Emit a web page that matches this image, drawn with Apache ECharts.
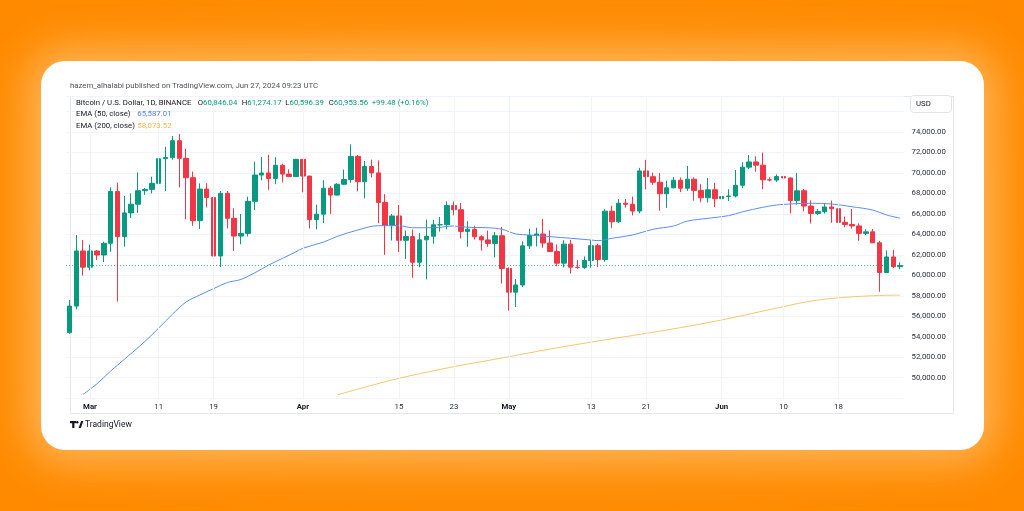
<!DOCTYPE html>
<html><head><meta charset="utf-8">
<script src="https://cdn.jsdelivr.net/npm/echarts@6/dist/echarts.min.js"></script>
<style>
html,body{margin:0;padding:0;background:#FF8C00;overflow:hidden;}
#wrap{position:relative;width:1024px;height:511px;background:radial-gradient(ellipse at center,#ff9a1f 0%,#ff8d05 60%,#ff8a00 100%);}
#card{position:absolute;left:41px;top:61px;width:943px;height:389px;background:#fff;border-radius:24px;box-shadow:0 0 40px 12px rgba(255,196,120,0.75);}
#frame{position:absolute;left:70px;top:96px;width:882px;height:316px;border:1px solid #e3e6ec;box-sizing:content-box;}
#c{position:absolute;left:0;top:0;width:1024px;height:511px;}
</style>
</head><body><div id="wrap"><div id="card"></div><div id="frame"></div><div id="c"></div></div>
<script>
const dates = [
'2024-02-27','2024-02-28','2024-02-29',
'2024-03-01','2024-03-02','2024-03-03','2024-03-04','2024-03-05','2024-03-06','2024-03-07','2024-03-08','2024-03-09','2024-03-10',
'2024-03-11','2024-03-12','2024-03-13','2024-03-14','2024-03-15','2024-03-16','2024-03-17','2024-03-18','2024-03-19','2024-03-20',
'2024-03-21','2024-03-22','2024-03-23','2024-03-24','2024-03-25','2024-03-26','2024-03-27','2024-03-28','2024-03-29','2024-03-30','2024-03-31',
'2024-04-01','2024-04-02','2024-04-03','2024-04-04','2024-04-05','2024-04-06','2024-04-07','2024-04-08','2024-04-09','2024-04-10',
'2024-04-11','2024-04-12','2024-04-13','2024-04-14','2024-04-15','2024-04-16','2024-04-17','2024-04-18','2024-04-19','2024-04-20',
'2024-04-21','2024-04-22','2024-04-23','2024-04-24','2024-04-25','2024-04-26','2024-04-27','2024-04-28','2024-04-29','2024-04-30',
'2024-05-01','2024-05-02','2024-05-03','2024-05-04','2024-05-05','2024-05-06','2024-05-07','2024-05-08','2024-05-09','2024-05-10',
'2024-05-11','2024-05-12','2024-05-13','2024-05-14','2024-05-15','2024-05-16','2024-05-17','2024-05-18','2024-05-19','2024-05-20',
'2024-05-21','2024-05-22','2024-05-23','2024-05-24','2024-05-25','2024-05-26','2024-05-27','2024-05-28','2024-05-29','2024-05-30','2024-05-31',
'2024-06-01','2024-06-02','2024-06-03','2024-06-04','2024-06-05','2024-06-06','2024-06-07','2024-06-08','2024-06-09','2024-06-10',
'2024-06-11','2024-06-12','2024-06-13','2024-06-14','2024-06-15','2024-06-16','2024-06-17','2024-06-18','2024-06-19','2024-06-20',
'2024-06-21','2024-06-22','2024-06-23','2024-06-24','2024-06-25','2024-06-26','2024-06-27'
];
const opens = [
54400,57000,62380,
60800,62380,61990,63130,68200,63780,66100,66950,68270,68400,
68990,71400,71500,73150,71430,69540,65340,68430,67600,61890,
68010,65570,63840,64100,67230,69800,70000,69460,70750,69890,69650,
71330,69700,65450,65980,68510,67840,68900,69360,71620,69150,
70630,70010,67120,64900,65800,63420,63790,61280,63470,63820,
64940,64950,66820,66410,64290,64500,63770,63460,63120,63870,
60670,58360,59060,62880,63890,64040,63160,62330,61190,63050,
60790,60770,61450,62900,61550,66270,65230,67050,66940,66280,
70200,69640,69100,67970,68550,69290,68510,69390,68300,67580,68360,
67490,67710,67750,68800,70570,71080,70760,69340,69310,69650,
69510,67310,68260,66770,66040,66230,66680,66510,65180,64970,
64830,64100,64250,63180,60280,61800,60846.04
];
const highs = [
57600,63940,63450,
63000,62480,63290,68600,69050,67750,68000,70060,68540,69640,
72570,72570,73610,73800,72360,70130,68990,68990,68170,68240,
68240,66550,65990,67690,71100,71560,71770,71550,70910,70350,71380,
71340,69710,66910,69290,68720,69000,70330,72800,71760,71170,
71300,71230,67930,66000,66870,64370,64480,64130,65450,65420,
65700,67230,67200,67080,65300,64840,63920,64370,64230,64730,
60780,59630,63320,64550,64650,65500,64390,63020,63420,63470,
61490,61850,63450,63100,66450,66800,67450,67450,67700,70500,
71280,70030,70000,69250,69610,69560,70690,69560,68900,69500,69030,
67860,68410,70290,71060,71760,71630,72000,69580,69860,70200,
69550,70000,68450,67320,66480,67000,67300,66510,65730,66480,
65070,64520,64530,63370,62440,62490,61274.17
];
const lows = [
54300,56680,59970,
60500,61500,61300,62300,57430,62800,65600,66100,67860,68000,
67100,68240,71300,68600,65470,64850,64530,66640,61500,60800,
64590,62380,63030,63800,66380,69280,68360,68900,69080,69600,69620,
68110,64590,64490,65110,66010,67800,68820,69040,68210,67520,
69570,65090,62000,63400,62270,61600,59770,60780,59600,63090,
64280,64500,65860,63590,62790,63500,62420,62780,61770,59190,
56550,56910,58850,62590,62820,62700,62280,60890,60770,60190,
60630,60630,60750,60800,61330,64600,65110,66610,65860,66060,
68400,68840,66310,66600,68500,68130,68250,67300,67130,67120,66670,
67390,67260,67610,68510,70380,70120,68420,69180,69130,69170,
66050,66910,66250,65060,65880,66030,65130,64060,64690,64560,
63380,63940,63180,58400,60240,60710,60596.39
];
const closes = [
57000,62380,60800,
62380,61990,63130,68200,63780,66100,66950,68270,68400,68990,
71400,71500,73150,71430,69540,65340,68430,67600,61890,68010,
65570,63840,64100,67230,69800,70000,69460,70750,69890,69650,71330,
69700,65450,65980,68510,67840,68900,69360,71620,69150,70630,
70010,67120,64900,65800,63420,63790,61280,63470,63820,64940,
64950,66820,66410,64290,64500,63770,63460,63120,63870,60670,
58360,59060,62880,63890,64040,63160,62330,61190,63050,60790,
60770,61450,62900,61550,66270,65230,67050,66940,66280,70200,
69640,69100,67970,68550,69290,68510,69390,68300,67580,68360,67490,
67710,67750,68800,70570,71080,70760,69340,69310,69650,69510,
67310,68260,66770,66040,66230,66680,66510,65180,64970,64830,
64100,64250,63180,60280,61800,60846.04,60953.56
];
const ema50Dates = ['2024-02-29','2024-03-02','2024-03-04','2024-03-06','2024-03-09','2024-03-11','2024-03-13','2024-03-15','2024-03-17','2024-03-19',
'2024-03-21','2024-03-23','2024-03-25','2024-03-27','2024-03-29','2024-03-31','2024-04-01','2024-04-04','2024-04-06','2024-04-09',
'2024-04-12','2024-04-15','2024-04-17','2024-04-20','2024-04-23','2024-04-25','2024-04-28','2024-04-30','2024-05-02','2024-05-04',
'2024-05-07','2024-05-10','2024-05-13','2024-05-14','2024-05-16','2024-05-19','2024-05-22','2024-05-25','2024-05-27','2024-05-30',
'2024-06-02','2024-06-04','2024-06-07','2024-06-09','2024-06-11','2024-06-14','2024-06-17','2024-06-20','2024-06-23','2024-06-25','2024-06-27'];
const ema50Values = [48380,49400,50650,51800,53550,54850,56200,57400,58080,58700,
59300,59600,60250,61000,61650,62300,62650,63250,63800,64430,
64850,64850,64650,64650,64820,64690,64650,64500,64050,63940,
63780,63620,63450,63390,63620,63940,64500,64820,65300,65570,
65830,66200,66650,66870,66970,67040,66970,66700,66380,65900,65587.01];
const ema200Dates = ['2024-04-06','2024-04-14','2024-04-22','2024-04-30','2024-05-07','2024-05-14','2024-05-24','2024-06-01','2024-06-09','2024-06-15','2024-06-22','2024-06-27'];
const ema200Values = [48320,49780,50950,51930,52800,53590,54660,55640,56800,57590,57980,58073.52];
const xTickDates = ['2024-03-01','2024-03-11','2024-03-19','2024-04-01','2024-04-15','2024-04-23','2024-05-01','2024-05-13','2024-05-21','2024-06-01','2024-06-10','2024-06-18'];
const xTickLabels = ['Mar','11','19','Apr','15','23','May','13','21','Jun','10','18'];
const monthLabels = ['Mar','Apr','May','Jun'];
const lastPrice = 60953.56;

const FONT = 'Roboto, "Noto Sans", sans-serif';
const FS = 7.8;
const UP = '#089981', DOWN = '#F23645';
const tickIndex = {};
xTickDates.forEach((d, k) => { tickIndex[dates.indexOf(d)] = xTickLabels[k]; });
const candleData = dates.map((d, i) => [opens[i], closes[i], lows[i], highs[i]]);
const ema50Data = ema50Dates.map((d, k) => [dates.indexOf(d), ema50Values[k]]);
const ema200Data = ema200Dates.map((d, k) => [dates.indexOf(d), ema200Values[k]]);

const chart = echarts.init(document.getElementById('c'), null, {renderer: 'canvas'});
const txt = (x, y, text, fill, size, extra) => Object.assign({
  type: 'text', x: x, y: y, z: 50,
  style: Object.assign({text: text, fill: fill, fontSize: size || FS, fontFamily: FONT, verticalAlign: 'middle', align: 'left'}, extra || {})
});
const ohlc = (x, l, v) => ({
  type: 'text', x: x, y: 103, z: 50,
  style: {text: '{l|' + l + '}{v|' + v + '}', verticalAlign: 'middle', fontFamily: FONT, fontSize: FS,
    rich: {l: {fill: '#131722', fontSize: FS, fontFamily: FONT}, v: {fill: UP, fontSize: FS, fontFamily: FONT}}}
});
chart.setOption({
  animation: false,
  backgroundColor: 'transparent',
  grid: {left: 66, right: 120.4, top: 96.2, bottom: 112.8, containLabel: false},
  xAxis: {
    type: 'category', data: dates, boundaryGap: true,
    axisLine: {show: false}, axisTick: {show: false}, splitLine: {show: false},
    axisLabel: {
      interval: (i) => tickIndex[i] !== undefined, margin: 5, fontSize: FS, color: '#2a2e39', fontFamily: FONT,
      formatter: (v, i) => { const t = tickIndex[i]; if (t === undefined) return ''; return monthLabels.includes(t) ? '{b|' + t + '}' : t; },
      rich: {b: {fontWeight: 'bold', fontSize: FS, color: '#131722', fontFamily: FONT}}
    }
  },
  yAxis: {
    type: 'value', position: 'right', min: 48000, max: 77500, interval: 2000, scale: true,
    axisLine: {show: false}, axisTick: {show: false},
    splitLine: {show: true, lineStyle: {color: '#f0f3fa', width: 1}},
    axisLabel: {
      margin: 8, fontSize: FS, color: '#2a2e39', fontFamily: FONT,
      formatter: (v) => (v < 50000 || v > 74000) ? '' : v.toLocaleString('en-US', {minimumFractionDigits: 2, maximumFractionDigits: 2})
    }
  },
  series: [
    {
      type: 'line', data: [], z: 1, silent: true,
      markLine: {symbol: ['none', 'none'], silent: true, label: {show: false},
        lineStyle: {color: '#f0f3fa', type: 'solid', width: 1},
        data: xTickDates.map(d => ({xAxis: d}))}
    },
    {
      type: 'candlestick', data: candleData, barWidth: 5, z: 3,
      itemStyle: {color: UP, color0: DOWN, borderColor: UP, borderColor0: DOWN, borderWidth: 1},
      markLine: {symbol: ['none', 'none'], silent: true, label: {show: false},
        lineStyle: {color: UP, type: [1, 2], width: 1, opacity: 0.7},
        data: [{yAxis: lastPrice}]}
    },
    {
      type: 'line', data: ema50Data, smooth: 0.35, showSymbol: false, z: 4, silent: true,
      lineStyle: {color: '#5b8cf4', width: 1}
    },
    {
      type: 'line', data: ema200Data, smooth: 0.35, showSymbol: false, z: 4, silent: true,
      lineStyle: {color: '#f9c46b', width: 1}
    }
  ],
  graphic: [
    txt(70, 86, 'hazem_alhalabi published on TradingView.com, Jun 27, 2024 09:23 UTC', '#50535e', FS),
    txt(76, 103, 'Bitcoin / U.S. Dollar, 1D, BINANCE', '#131722', FS),
    ohlc(197.7, 'O', '60,846.04'),
    ohlc(241.7, 'H', '61,274.17'),
    ohlc(285.3, 'L', '60,596.39'),
    ohlc(328.7, 'C', '60,953.56'),
    txt(371.7, 103, '+99.48 (+0.16%)', UP, FS),
    txt(76, 114.5, 'EMA (50, close)', '#131722', FS),
    txt(137.3, 114.5, '65,587.01', '#4f82f7', FS),
    txt(76, 126, 'EMA (200, close)', '#131722', FS),
    txt(137.3, 126, '58,073.52', '#f7b54a', FS),
    {type: 'rect', z: 40, shape: {x: 910.5, y: 95.5, width: 41, height: 17, r: 3}, style: {fill: '#fff', stroke: '#e0e3eb', lineWidth: 1}},
    txt(916, 104, 'USD', '#131722', FS),
    {type: 'rect', z: 50, shape: {x: 70, y: 421, width: 6, height: 2.2}, style: {fill: '#131722'}},
    {type: 'rect', z: 50, shape: {x: 72.2, y: 421, width: 2.2, height: 7}, style: {fill: '#131722'}},
    {type: 'circle', z: 50, shape: {cx: 77.3, cy: 422.2, r: 1.2}, style: {fill: '#131722'}},
    {type: 'polygon', z: 50, shape: {points: [[78.6, 428], [81.2, 421], [83.4, 421], [80.8, 428]]}, style: {fill: '#131722'}},
    txt(85, 424.5, 'TradingView', '#131722', 8.5)
  ]
});
</script></body></html>
